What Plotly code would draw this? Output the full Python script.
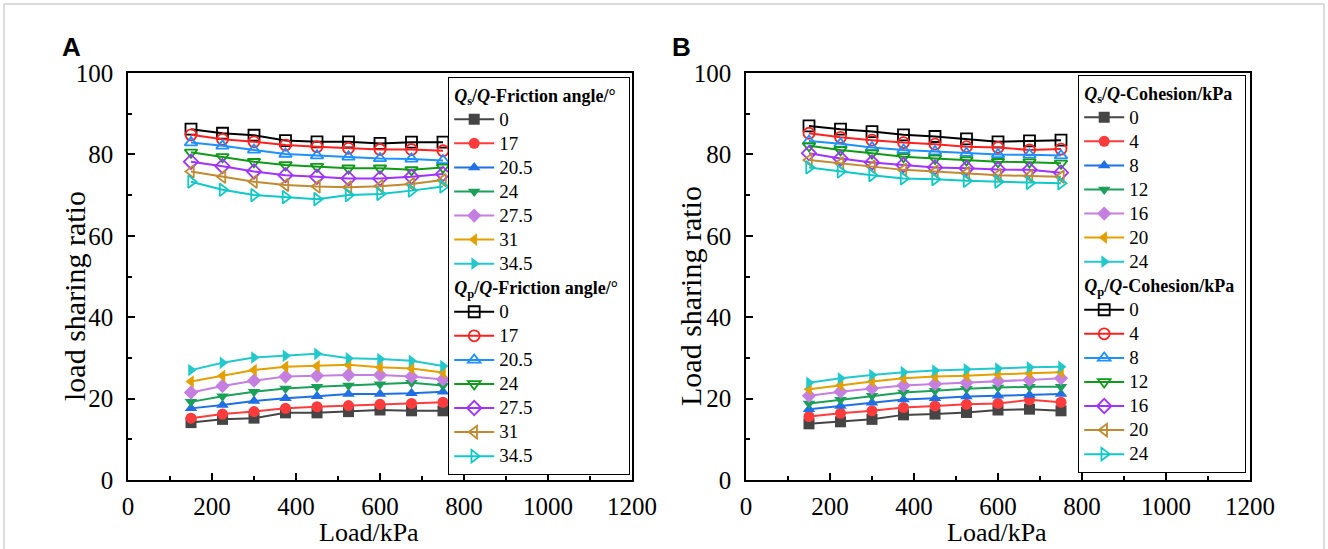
import plotly.graph_objects as go

W, H = 1328, 549

load = [150, 225, 300, 375, 450, 525, 600, 675, 750]

# Panel A – friction angle
fric_labels = ["0", "17", "20.5", "24", "27.5", "31", "34.5"]
A_upper = [  # open markers (upper curves)
    [86.2, 85.2, 84.7, 83.4, 83.1, 83.1, 82.7, 83.0, 83.0],
    [84.8, 83.7, 83.1, 82.3, 81.9, 81.5, 81.2, 81.2, 80.9],
    [82.9, 82.1, 81.1, 80.1, 79.7, 79.4, 79.0, 78.9, 78.5],
    [80.5, 79.4, 78.2, 77.4, 77.0, 76.6, 76.6, 76.2, 76.8],
    [78.2, 77.1, 75.8, 74.9, 74.5, 74.1, 74.1, 74.5, 75.2],
    [75.8, 74.5, 73.3, 72.5, 72.1, 71.9, 72.2, 72.7, 73.7],
    [73.3, 71.3, 70.0, 69.5, 69.0, 70.0, 70.3, 71.1, 72.1],
]
A_lower = [  # filled markers (lower curves)
    [14.1, 14.9, 15.2, 16.5, 16.5, 16.8, 17.2, 17.0, 17.0],
    [15.2, 16.2, 16.8, 17.6, 18.0, 18.3, 18.6, 18.8, 19.1],
    [17.6, 18.4, 19.4, 20.1, 20.6, 21.1, 21.1, 21.3, 21.7],
    [19.2, 20.6, 21.7, 22.5, 22.9, 23.2, 23.5, 23.9, 23.2],
    [21.5, 23.1, 24.4, 25.4, 25.6, 25.8, 25.8, 25.4, 24.7],
    [24.2, 25.6, 27.0, 27.8, 28.0, 28.3, 27.7, 27.4, 26.4],
    [27.0, 28.8, 30.1, 30.5, 31.0, 29.9, 29.7, 29.3, 28.0],
]

# Panel B – cohesion
coh_labels = ["0", "4", "8", "12", "16", "20", "24"]
B_upper = [
    [87.0, 86.2, 85.6, 84.8, 84.4, 83.8, 83.1, 83.3, 83.5],
    [85.2, 84.2, 83.5, 82.9, 82.5, 81.9, 81.7, 81.1, 81.3],
    [83.3, 82.6, 81.7, 81.1, 80.7, 80.3, 80.0, 79.9, 79.7],
    [82.1, 81.1, 80.3, 79.4, 79.0, 78.6, 78.2, 78.1, 77.8],
    [80.3, 79.0, 78.0, 77.4, 76.8, 76.6, 76.3, 76.2, 75.5],
    [78.6, 77.8, 77.0, 76.2, 75.8, 75.4, 74.9, 74.7, 74.5],
    [76.8, 75.8, 74.9, 74.1, 73.9, 73.5, 73.3, 73.0, 72.9],
]
B_lower = [
    [13.8, 14.3, 14.9, 16.0, 16.2, 16.6, 17.2, 17.4, 17.0],
    [15.6, 16.4, 17.0, 17.8, 18.2, 18.6, 18.8, 19.7, 19.1],
    [17.4, 18.2, 19.0, 19.8, 20.1, 20.5, 20.7, 20.9, 21.1],
    [18.8, 19.7, 20.7, 21.5, 21.9, 22.4, 22.7, 22.9, 22.9],
    [20.7, 21.7, 22.5, 23.2, 23.6, 23.9, 24.3, 24.6, 25.0],
    [22.3, 23.3, 24.2, 25.0, 25.4, 25.6, 26.0, 26.2, 26.5],
    [23.9, 25.0, 25.8, 26.5, 26.9, 27.2, 27.4, 27.7, 27.8],
]

filled_colors = ["#454545", "#ff3b3b", "#1f6fe5", "#1ba05a", "#c47fe0", "#e3a000", "#22c8cc"]
open_colors = ["#000000", "#ff2020", "#1e90ff", "#119a1a", "#a033ff", "#c08a30", "#11c8c8"]
symbols = ["square", "circle", "triangle-up", "triangle-down", "diamond", "triangle-left", "triangle-right"]

SERIF = "Liberation Serif, Times New Roman, serif"
LEG_SIZE = 16.2          # sets legend row height
LEG_TEXT = 19            # visible legend text size
LEG_TITLE = 18


def big(t, size=LEG_TEXT):
    return '<span style="font-size:%dpx">%s</span>' % (size, t)


fig = go.Figure()


def add_panel(xa, ya, leg, labels, lower, upper, tag):
    title_s = big("<b><i>Q</i><sub>s</sub>/<i>Q</i>-" + tag + "</b>", LEG_TITLE)
    title_p = big("<b><i>Q</i><sub>p</sub>/<i>Q</i>-" + tag + "</b>", LEG_TITLE)
    for i, lab in enumerate(labels):
        fig.add_trace(go.Scatter(
            x=load, y=lower[i], name=big(lab), mode="lines+markers",
            xaxis=xa, yaxis=ya, legend=leg,
            legendgroup=leg + "s",
            legendgrouptitle=dict(text=title_s, font=dict(family=SERIF, size=LEG_SIZE, color="black")),
            line=dict(color=filled_colors[i], width=2),
            marker=dict(symbol=symbols[i], size=11, color=filled_colors[i], line=dict(width=0)),
        ))
    for i, lab in enumerate(labels):
        fig.add_trace(go.Scatter(
            x=load, y=upper[i], name=big(lab), mode="lines+markers",
            xaxis=xa, yaxis=ya, legend=leg,
            legendgroup=leg + "p",
            legendgrouptitle=dict(text=title_p, font=dict(family=SERIF, size=LEG_SIZE, color="black")),
            line=dict(color=open_colors[i], width=2),
            marker=dict(symbol=symbols[i] + "-open", size=11, color=open_colors[i], line=dict(width=1.8)),
        ))


add_panel("x", "y", "legend", fric_labels, A_lower, A_upper, "Friction angle/°")
add_panel("x2", "y2", "legend2", coh_labels, B_lower, B_upper, "Cohesion/kPa")

ybot, ytop = 1 - 480 / H, 1 - 73 / H


def axis(**kw):
    d = dict(
        showline=True, linecolor="black", linewidth=1.5, mirror=True,
        showgrid=False, zeroline=False, ticks="inside", ticklen=7, tickwidth=1.5,
        tickcolor="black", tickfont=dict(family=SERIF, size=25, color="black"),
        automargin=False,
    )
    d.update(kw)
    return d


xminor = dict(dtick=100, ticks="inside", ticklen=4, tickcolor="black")
yminor = dict(dtick=10, ticks="inside", ticklen=4, tickcolor="black")

legend_common = dict(
    xanchor="left", yanchor="top",
    bordercolor="black", borderwidth=1.2, bgcolor="white",
    font=dict(family=SERIF, size=LEG_SIZE, color="black"),
    tracegroupgap=0, traceorder="grouped", itemwidth=40,
)


def ann(text, x, y, size, family=SERIF, angle=0):
    return dict(text=text, x=x / W, y=1 - y / H, xref="paper", yref="paper",
                xanchor="center", yanchor="middle", textangle=angle, showarrow=False,
                font=dict(family=family, size=size, color="black"))


fig.update_layout(
    width=W, height=H,
    margin=dict(l=0, r=0, t=0, b=0),
    paper_bgcolor="white", plot_bgcolor="white",
    font=dict(family=SERIF, color="black"),
    showlegend=True,
    xaxis=axis(domain=[128 / W, 632 / W], range=[0, 1200], dtick=200, anchor="y",
               minor=xminor, ticklabelstandoff=3),
    yaxis=axis(domain=[ybot, ytop], range=[0, 100], dtick=20, anchor="x",
               minor=yminor, ticklabelstandoff=8),
    xaxis2=axis(domain=[746 / W, 1250 / W], range=[0, 1200], dtick=200, anchor="y2",
                minor=xminor, ticklabelstandoff=3),
    yaxis2=axis(domain=[ybot, ytop], range=[0, 100], dtick=20, anchor="x2",
                minor=yminor, ticklabelstandoff=8),
    legend=dict(x=448 / W, y=1 - 77 / H, **legend_common),
    legend2=dict(x=1078 / W, y=1 - 75 / H, **legend_common),
    annotations=[
        ann("<b>A</b>", 71, 47, 26, family="Liberation Sans, Arial, sans-serif"),
        ann("<b>B</b>", 681, 47, 26, family="Liberation Sans, Arial, sans-serif"),
        ann("load sharing ratio", 74, 296, 30, angle=-90),
        ann("Load sharing ratio", 690, 296, 30, angle=-90),
        ann("Load/kPa", 369, 532, 26),
        ann("Load/kPa", 997, 532, 26),
    ],
    shapes=[
        dict(type="line", xref="paper", yref="paper", x0=4 / W, x1=1324 / W, y0=1 - 4 / H, y1=1 - 4 / H,
             line=dict(color="#cfcfcf", width=1.5)),
        dict(type="line", xref="paper", yref="paper", x0=4 / W, x1=4 / W, y0=0, y1=1 - 4 / H,
             line=dict(color="#cfcfcf", width=1.5)),
        dict(type="line", xref="paper", yref="paper", x0=1324 / W, x1=1324 / W, y0=0, y1=1 - 4 / H,
             line=dict(color="#cfcfcf", width=1.5)),
    ],
)

fig.write_html("out.html")
